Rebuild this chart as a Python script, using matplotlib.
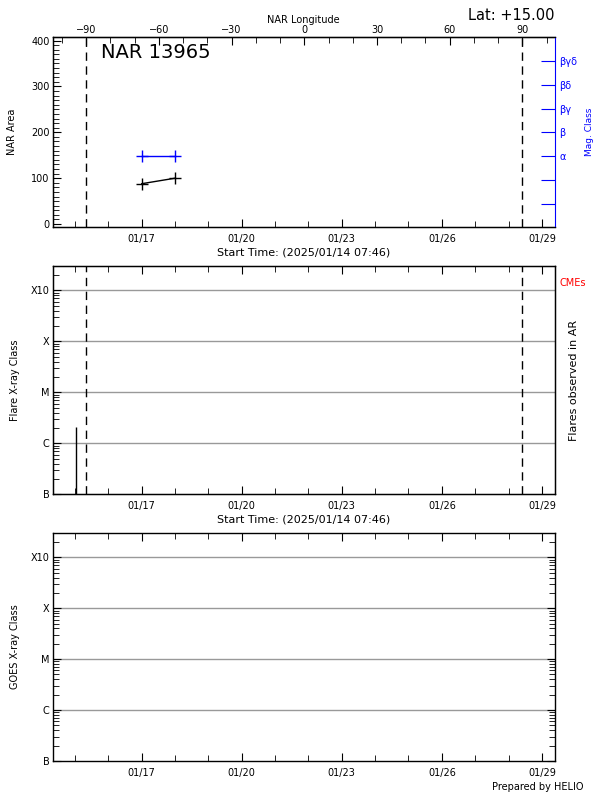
import matplotlib
matplotlib.use('Agg')
import matplotlib.pyplot as plt
import matplotlib.dates as mdates
import matplotlib.ticker as mticker
from datetime import datetime, timedelta

# data
t_start = datetime(2025, 1, 14, 7, 46)
t_end = t_start + timedelta(days=15.07)
limb_times = [datetime(2025, 1, 15, 8, 0), datetime(2025, 1, 28, 10, 0)]  # -90 / +90 longitude

nar_times = [datetime(2025, 1, 17, 0, 0), datetime(2025, 1, 18, 0, 0)]
nar_area = [88, 100]
mag_class = [3, 3]  # index into mag_labels -> alpha
mag_labels = ['', '', '\u03b1', '\u03b2', '\u03b2\u03b3', '\u03b2\u03b4', '\u03b2\u03b3\u03b4']

flare_times = [datetime(2025, 1, 15, 1, 0)]
flare_flux = [2.1e-6]  # C2.1

class_levels = [1e-7, 1e-6, 1e-5, 1e-4, 1e-3]
class_names = ['B', 'C', 'M', 'X', 'X10']

region = 'NAR 13965'
lat_text = 'Lat: +15.00'
start_label = 'Start Time: (2025/01/14 07:46)'

fs = 7
plt.rcParams['font.family'] = 'DejaVu Sans'
fig = plt.figure(figsize=(6, 8), dpi=100)

L = 52.5 / 600
W = (555 - 52.5) / 600


def box(top, bottom):
    return [L, 1 - bottom / 800, W, (bottom - top) / 800]


def time_axis(ax):
    ax.set_xlim(t_start, t_end)
    ax.xaxis.set_major_locator(mdates.DayLocator(bymonthday=[17, 20, 23, 26, 29]))
    ax.xaxis.set_minor_locator(mdates.DayLocator())
    ax.xaxis.set_major_formatter(mdates.DateFormatter('%m/%d'))
    ax.tick_params(axis='x', which='both', direction='in', labelsize=fs, pad=5)
    ax.tick_params(axis='x', which='major', length=6)
    ax.tick_params(axis='x', which='minor', length=4)
    for s in ax.spines.values():
        s.set_linewidth(1)


def class_axis(ax, ylabel):
    ax.set_yscale('log')
    ax.set_ylim(1e-7, 3e-3)
    ax.set_yticks(class_levels)
    ax.set_yticklabels(class_names)
    ax.yaxis.set_minor_locator(mticker.LogLocator(base=10, subs=range(2, 10)))
    ax.yaxis.set_minor_formatter(mticker.NullFormatter())
    ax.tick_params(axis='y', which='both', direction='in', left=True, right=True, labelsize=fs, pad=2)
    ax.tick_params(axis='y', which='major', length=6)
    ax.tick_params(axis='y', which='minor', length=4)
    ax.tick_params(axis='x', which='both', top=True)
    for lev in class_levels[1:]:
        ax.axhline(lev, color='#999999', lw=1, zorder=0)
    ax.set_ylabel(ylabel, fontsize=fs, labelpad=8)


# ---- top panel: NAR area / mag class
ax1 = fig.add_axes(box(37.3, 227.3))
time_axis(ax1)
ax1.set_ylim(-7, 407)
ax1.yaxis.set_major_locator(mticker.MultipleLocator(100))
ax1.yaxis.set_minor_locator(mticker.MultipleLocator(10))
ax1.tick_params(axis='y', which='both', direction='in', right=False, labelsize=fs, pad=2)
ax1.tick_params(axis='y', which='major', length=6)
ax1.tick_params(axis='y', which='minor', length=4)
ax1.plot(nar_times, nar_area, color='black', lw=1, marker='+', ms=9, mew=1)
for lt in limb_times:
    ax1.axvline(lt, color='black', lw=1, ls=(0, (6, 4)))
ax1.set_ylabel('NAR Area', fontsize=fs, labelpad=10)
ax1.set_xlabel(start_label, fontsize=8, labelpad=2)
ax1.text(0.097, 0.92, region, transform=ax1.transAxes, fontsize=14, va='center')
ax1.spines['right'].set_visible(False)

# longitude on top, linear through the limb crossings
t0 = mdates.date2num(limb_times[0])
t1 = mdates.date2num(limb_times[1])


def t2lon(t):
    return -90 + 180 * (t - t0) / (t1 - t0)


def lon2t(lon):
    return t0 + (lon + 90) * (t1 - t0) / 180


sec = ax1.secondary_xaxis('top', functions=(t2lon, lon2t))
sec.xaxis.set_major_locator(mticker.MultipleLocator(30))
sec.xaxis.set_minor_locator(mticker.MultipleLocator(10))
sec.tick_params(which='both', direction='in', labelsize=fs, pad=2)
sec.tick_params(which='major', length=6)
sec.tick_params(which='minor', length=4)
sec.set_xlabel('NAR Longitude', fontsize=fs, labelpad=1)

axm = ax1.twinx()
axm.set_ylim(0, 8)
axm.set_yticks(range(1, 8))
axm.set_yticklabels(mag_labels)
axm.tick_params(axis='y', direction='in', length=10, colors='blue', labelsize=fs, pad=3)
axm.spines['right'].set_color('blue')
axm.plot(nar_times, mag_class, color='blue', lw=1, marker='+', ms=9, mew=1)
axm.set_ylabel('Mag. Class', fontsize=6.5, color='blue', labelpad=6)

fig.text(555 / 600, 1 - 20.5 / 800, lat_text, fontsize=10.5, ha='right', va='baseline')

# ---- middle panel: flares
ax2 = fig.add_axes(box(266, 494.3))
time_axis(ax2)
class_axis(ax2, 'Flare X-ray Class')
ax2.vlines(flare_times, 1e-7, flare_flux, color='black', lw=1)
for lt in limb_times:
    ax2.axvline(lt, color='black', lw=1, ls=(0, (6, 4)))
ax2.set_xlabel(start_label, fontsize=8, labelpad=2)
ax2r = ax2.twinx()
ax2r.set_yticks([])
ax2r.set_ylabel('Flares observed in AR', fontsize=8, labelpad=10)
fig.text(560 / 600, 1 - 283 / 800, 'CMEs', color='red', fontsize=fs, va='center')

# ---- bottom panel: GOES
ax3 = fig.add_axes(box(533, 761))
time_axis(ax3)
class_axis(ax3, 'GOES X-ray Class')

fig.text(583 / 600, 1 - 787 / 800, 'Prepared by HELIO', fontsize=fs, ha='right', va='center')

fig.savefig('out.png', dpi=100)
